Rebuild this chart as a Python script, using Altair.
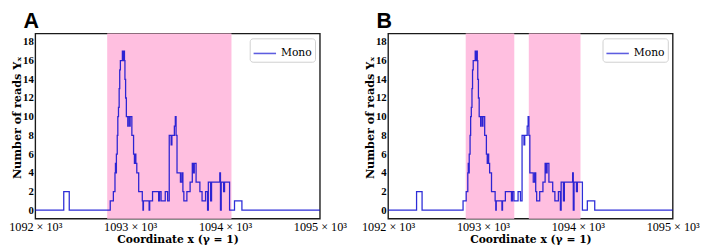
import altair as alt
import pandas as pd

# step series (start coordinate, number of reads)
coord = [1092000, 1092300, 1092358, 1092790, 1092823, 1092840, 1092845, 1092850, 1092855,
         1092864, 1092870, 1092877, 1092884, 1092890, 1092897, 1092918, 1092923, 1092927,
         1092940, 1092945, 1092952, 1092960, 1092975, 1092980, 1092995, 1093000, 1093018,
         1093036, 1093045, 1093050, 1093060, 1093070, 1093090, 1093128, 1093135, 1093140,
         1093200, 1093206, 1093236, 1093300, 1093310, 1093326, 1093370, 1093395, 1093412,
         1093432, 1093440, 1093456, 1093466, 1093476, 1093484, 1093494, 1093530, 1093545,
         1093556, 1093566, 1093598, 1093632, 1093655, 1093668, 1093676, 1093695, 1093735,
         1093758, 1093795, 1093816, 1093824, 1093848, 1093858, 1093945, 1093952, 1093960,
         1093985, 1093995, 1094048, 1094100, 1094178, 1095000]
reads = [0, 2, 0, 1, 2, 4, 5, 4, 6,
         8, 10, 11, 13, 15, 16, 17, 16, 17,
         16, 14, 12, 10, 9, 10, 9, 10, 8,
         6, 5, 6, 5, 4, 2, 1, 0, 1,
         0, 1, 2, 1, 2, 1, 2, 1, 8,
         7, 8, 8, 9, 10, 8, 4, 3, 4,
         2, 1, 2, 3, 5, 4, 5, 3, 2,
         1, 2, 0, 3, 1, 3, 4, 0, 3,
         2, 3, 0, 1, 0, 0]

spans_a_start = [1092758]
spans_a_end = [1094068]
spans_b_start = [1092818, 1093483]
spans_b_end = [1093330, 1094028]

x_ticks = [1092000, 1093000, 1094000, 1095000]
y_ticks = [0, 2, 4, 6, 8, 10, 12, 14, 16, 18]

df = pd.DataFrame({"x": coord, "y": reads, "series": "Mono"})

W, H = 292, 190
PINK = "#ffbfe0"

xscale = alt.Scale(domain=[1092000, 1095000], nice=False, zero=False)
yscale = alt.Scale(domain=[-0.9, 18.9], nice=False, zero=False)

x_axis = alt.Axis(values=x_ticks, title="Coordinate x (γ = 1)",
                  labelExpr="format(datum.value/1000, 'd') + ' × 10³'",
                  labelFlush=False, labelOverlap=False, ticks=False,
                  domain=False, grid=False, labelPadding=2,
                  labelFont="Liberation Serif", labelFontSize=12.5,
                  titleFont="DejaVu Serif", titleFontSize=11,
                  titleFontWeight="bold", titlePadding=1)
y_axis = alt.Axis(values=y_ticks, title="Number of reads Yₓ",
                  ticks=False, domain=False, grid=False, labelPadding=2,
                  labelFont="Liberation Serif", labelFontSize=11,
                  labelFontWeight="bold",
                  titleFont="DejaVu Serif", titleFontSize=11.5,
                  titleFontWeight="bold", titlePadding=0, titleY=86)


def panel(label, starts, ends):
    sp = pd.DataFrame({"start": starts, "end": ends})
    line = alt.Chart(df).mark_line(interpolate="step-after", strokeWidth=1.3, opacity=0.85).encode(
        x=alt.X("x:Q", scale=xscale, axis=x_axis),
        y=alt.Y("y:Q", scale=yscale, axis=y_axis),
        color=alt.Color("series:N", scale=alt.Scale(range=["#0808d0"]),
                        legend=alt.Legend(title=None, orient="top-right", offset=5,
                                          symbolType="stroke", symbolSize=530,
                                          symbolStrokeWidth=1.6, symbolOpacity=0.65,
                                          labelFont="DejaVu Serif", labelFontSize=11,
                                          strokeColor="#d0d0d0", fillColor="white",
                                          cornerRadius=3, padding=3)),
    )
    rect = alt.Chart(sp).mark_rect(color=PINK).encode(
        x=alt.X("start:Q", scale=xscale, axis=x_axis),
        x2="end:Q",
        y=alt.value(0),
        y2=alt.value(H),
    )
    return alt.layer(rect, line).properties(
        width=W, height=H,
        title=alt.TitleParams(label, anchor="start", frame="group", font="Liberation Sans",
                              fontSize=22, fontWeight="bold", dx=-12, offset=1),
    )


chart = alt.hconcat(
    panel("A", spans_a_start, spans_a_end),
    panel("B", spans_b_start, spans_b_end),
    spacing=14,
).resolve_scale(color="independent").resolve_legend(color="independent").configure_view(
    stroke="#1a1a1a", strokeWidth=1.4
).properties(padding={"left": 0, "top": -2, "right": 0, "bottom": 0})

chart.save("out.html", embed_options={"renderer": "svg", "actions": False})
